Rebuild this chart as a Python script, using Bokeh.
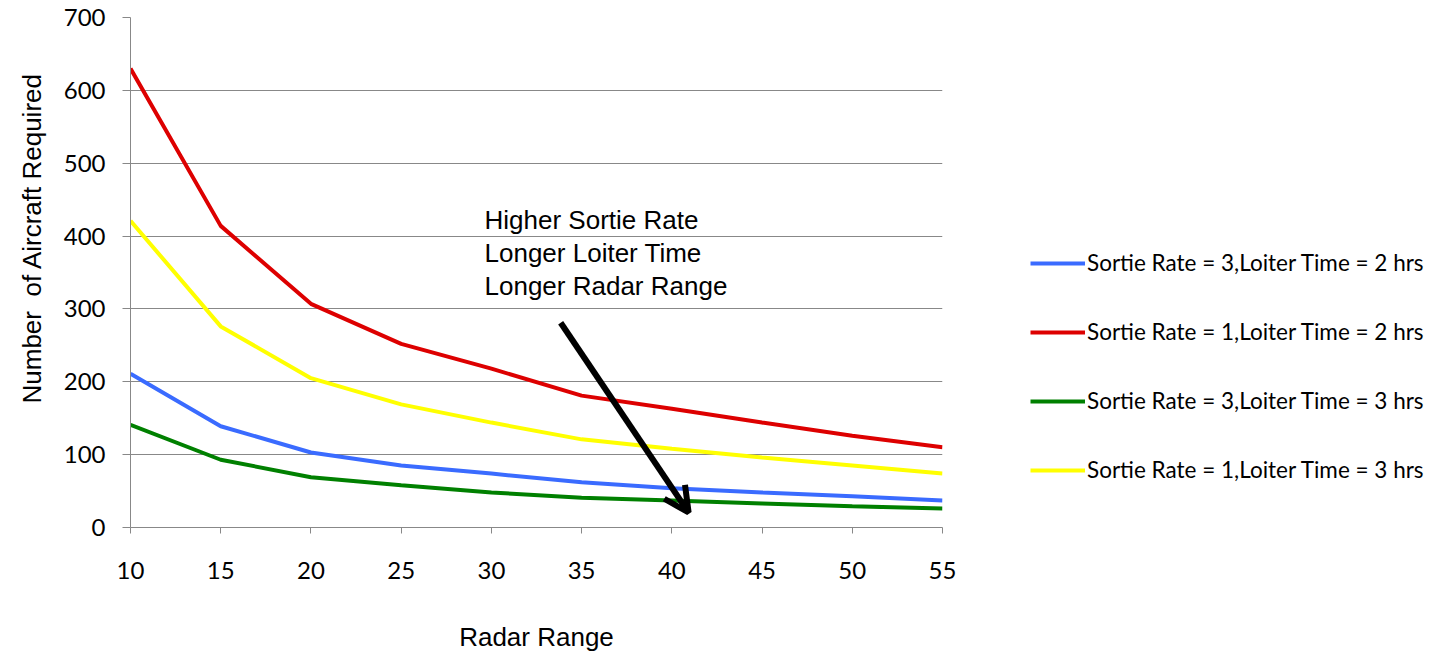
from bokeh.plotting import figure
from bokeh.layouts import row
from bokeh.models import Legend, LegendItem, Arrow, OpenHead, Label, FixedTicker, Title
from bokeh.embed import file_html
from bokeh.resources import INLINE

radar_range = [10, 15, 20, 25, 30, 35, 40, 45, 50, 55]
sr3_lt2 = [211, 139, 103, 85, 74, 62, 54, 48, 43, 37]
sr1_lt2 = [630, 414, 307, 252, 218, 181, 163, 144, 126, 110]
sr3_lt3 = [141, 93, 69, 58, 48, 41, 37, 33, 29, 26]
sr1_lt3 = [421, 276, 205, 169, 144, 121, 108, 96, 85, 74]

series_names = [
    "Sortie Rate = 3,Loiter Time = 2 hrs",
    "Sortie Rate = 1,Loiter Time = 2 hrs",
    "Sortie Rate = 3,Loiter Time = 3 hrs",
    "Sortie Rate = 1,Loiter Time = 3 hrs",
]
series_values = [sr3_lt2, sr1_lt2, sr3_lt3, sr1_lt3]
series_colors = ["#3A6BFF", "#DD0000", "#008000", "#FFFF00"]

x_ticks = [10, 15, 20, 25, 30, 35, 40, 45, 50, 55]
y_ticks = [0, 100, 200, 300, 400, 500, 600, 700]

annotation_lines = ["Higher Sortie Rate", "Longer Loiter Time", "Longer Radar Range"]

# main chart
p = figure(width=962, height=654, output_backend="svg", toolbar_location=None,
           x_range=(10, 55), y_range=(0, 700),
           min_border_left=130, min_border_right=20, min_border_top=17, min_border_bottom=127)
p.outline_line_color = None
p.background_fill_color = "white"
p.border_fill_color = "white"

grey = "#888888"
p.xgrid.grid_line_color = None
p.ygrid.grid_line_color = grey
p.ygrid.grid_line_width = 1

p.xaxis.ticker = FixedTicker(ticks=x_ticks)
p.yaxis.ticker = FixedTicker(ticks=y_ticks)
for ax in (p.xaxis, p.yaxis):
    ax.axis_line_color = grey
    ax.major_tick_line_color = grey
    ax.minor_tick_line_color = None
    ax.major_tick_in = 0
    ax.major_label_text_font = "Lato"
    ax.major_label_text_font_size = "24px"
    ax.major_label_text_color = "black"
    ax.axis_label_text_font = "Liberation Sans"
    ax.axis_label_text_font_size = "26px"
    ax.axis_label_text_font_style = "normal"
    ax.axis_label_text_color = "black"
p.xaxis.major_tick_out = 6
p.yaxis.major_tick_out = 8
p.xaxis.major_label_standoff = 28
p.yaxis.major_label_standoff = 17
p.xaxis.axis_label = "Radar Range"
p.xaxis.axis_label_standoff = 40

p.add_layout(Title(text="Number\u00a0 of Aircraft Required", align="left", offset=124,
                   standoff=28, text_font="Liberation Sans", text_font_size="26px",
                   text_font_style="normal", text_color="black"), "left")

for vals, col in zip(series_values, series_colors):
    p.line(radar_range, vals, line_color=col, line_width=4)

for i, txt in enumerate(annotation_lines):
    p.add_layout(Label(x=29.62, y=422 - i * 45, text=txt, text_font="Liberation Sans",
                       text_font_size="26px", text_baseline="middle", text_align="left",
                       text_color="black"))

p.add_layout(Arrow(end=OpenHead(line_color="black", line_width=6, size=25),
                   x_start=33.84, y_start=281, x_end=40.93, y_end=20.6,
                   line_color="black", line_width=6))

# legend panel (same series, ranges chosen so only the legend shows)
lf = figure(width=469, height=654, output_backend="svg", toolbar_location=None,
            x_range=(100, 101), y_range=(0, 1),
            x_axis_location=None, y_axis_location=None,
            min_border_left=0, min_border_right=0, min_border_top=0, min_border_bottom=0)
lf.outline_line_color = None
lf.xgrid.grid_line_color = None
lf.ygrid.grid_line_color = None
lf.background_fill_color = "white"
lf.border_fill_color = "white"

items = []
for name, vals, col in zip(series_names, series_values, series_colors):
    r = lf.line(radar_range, vals, line_color=col, line_width=4)
    items.append(LegendItem(label=name, renderers=[r]))

legend = Legend(items=items, location=(68, 44), padding=0, margin=0,
                border_line_color=None, background_fill_alpha=0,
                glyph_width=55, glyph_height=20, label_height=20,
                label_standoff=2, spacing=42,
                label_text_font="Lato", label_text_font_size="22.5px",
                label_text_color="black")
lf.add_layout(legend, "center")

layout = row(p, lf, spacing=0)
open("out.html", "w").write(file_html(layout, INLINE))
